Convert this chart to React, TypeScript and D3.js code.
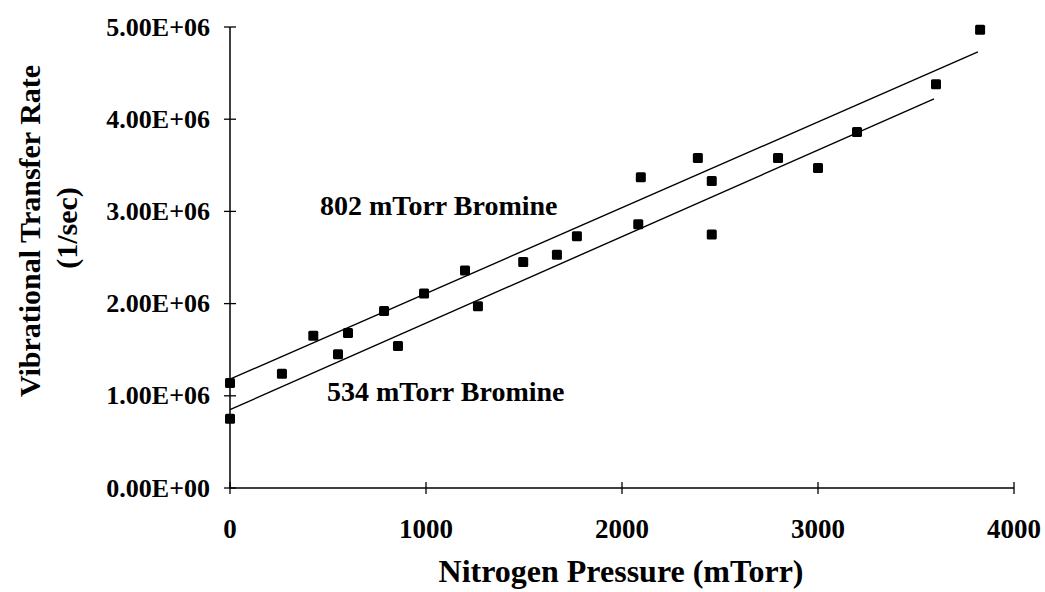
import React from "react";
import * as d3 from "d3";

// Nitrogen pressure (mTorr) and vibrational transfer rate (1/sec)
const series802X = [0, 425, 602, 786, 990, 1199, 1496, 1770, 2096, 2387, 2796, 3199, 3827];
const series802Y = [1.14e6, 1.65e6, 1.68e6, 1.92e6, 2.11e6, 2.36e6, 2.45e6, 2.73e6, 3.37e6, 3.58e6, 3.58e6, 3.86e6, 4.97e6];
const series534X = [0, 265, 551, 857, 1265, 1668, 2083, 2458, 2458, 3000, 3602];
const series534Y = [0.75e6, 1.24e6, 1.45e6, 1.54e6, 1.97e6, 2.53e6, 2.86e6, 3.33e6, 2.75e6, 3.47e6, 4.38e6];

// fitted lines: [x0, y0, x1, y1]
const fit802 = [0, 1.18e6, 3816, 4.73e6];
const fit534 = [0, 0.85e6, 3592, 4.22e6];

const xTicks = [0, 1000, 2000, 3000, 4000];
const yTicks = [0, 1e6, 2e6, 3e6, 4e6, 5e6];
const yTickLabels = ["0.00E+00", "1.00E+06", "2.00E+06", "3.00E+06", "4.00E+06", "5.00E+06"];

const W = 1045;
const H = 592;
const FONT = "'Liberation Serif', 'Times New Roman', serif";

export default function App() {
  const x = d3.scaleLinear().domain([0, 4000]).range([230, 1014]);
  const y = d3.scaleLinear().domain([0, 5e6]).range([488, 27]);
  const line = d3.line<[number, number]>().x((d) => x(d[0])).y((d) => y(d[1]));

  const pts802 = series802X.map((v, i) => [v, series802Y[i]] as [number, number]);
  const pts534 = series534X.map((v, i) => [v, series534Y[i]] as [number, number]);
  const allPts = [...pts802, ...pts534];
  const s = 10;

  return (
    <svg width={W} height={H} style={{ position: "absolute", left: 0, top: 0, background: "#fff" }}>
      <rect width={W} height={H} fill="#fff" />
      {/* axes */}
      <line x1={x(0)} x2={x(0)} y1={y(5e6)} y2={y(0)} stroke="#000" strokeWidth={1.5} />
      <line x1={x(0)} x2={x(4000)} y1={y(0)} y2={y(0)} stroke="#000" strokeWidth={1.5} />
      {yTicks.map((t, i) => (
        <g key={"yt" + i}>
          <line x1={x(0) - 6} x2={x(0) + 6} y1={y(t)} y2={y(t)} stroke="#000" strokeWidth={1.3} />
          <text x={x(0) - 20} y={y(t)} dy="0.33em" textAnchor="end" fontFamily={FONT} fontWeight="bold" fontSize={26} fill="#000">
            {yTickLabels[i]}
          </text>
        </g>
      ))}
      {xTicks.map((t, i) => (
        <g key={"xt" + i}>
          <line x1={x(t)} x2={x(t)} y1={y(0) - 6} y2={y(0) + 6} stroke="#000" strokeWidth={1.3} />
          <text x={x(t)} y={538} textAnchor="middle" fontFamily={FONT} fontWeight="bold" fontSize={27} fill="#000">
            {t}
          </text>
        </g>
      ))}
      {/* axis titles */}
      <text x={621} y={582} textAnchor="middle" fontFamily={FONT} fontWeight="bold" fontSize={32} fill="#000">
        Nitrogen Pressure (mTorr)
      </text>
      <text transform="translate(40,231) rotate(-90)" textAnchor="middle" fontFamily={FONT} fontWeight="bold" fontSize={30} fill="#000">
        Vibrational Transfer Rate
      </text>
      <text transform="translate(77,228) rotate(-90)" textAnchor="middle" fontFamily={FONT} fontWeight="bold" fontSize={30} fill="#000">
        (1/sec)
      </text>
      {/* fit lines */}
      <path d={line([[fit802[0], fit802[1]], [fit802[2], fit802[3]]]) || ""} stroke="#000" strokeWidth={1.4} fill="none" />
      <path d={line([[fit534[0], fit534[1]], [fit534[2], fit534[3]]]) || ""} stroke="#000" strokeWidth={1.4} fill="none" />
      {/* points */}
      {allPts.map((p, i) => (
        <rect key={"p" + i} x={x(p[0]) - s / 2} y={y(p[1]) - s / 2} width={s} height={s} rx={1.5} fill="#000" />
      ))}
      {/* annotations */}
      <text x={320} y={215} fontFamily={FONT} fontWeight="bold" fontSize={28} fill="#000">
        802 mTorr Bromine
      </text>
      <text x={327} y={401} fontFamily={FONT} fontWeight="bold" fontSize={28} fill="#000">
        534 mTorr Bromine
      </text>
    </svg>
  );
}
